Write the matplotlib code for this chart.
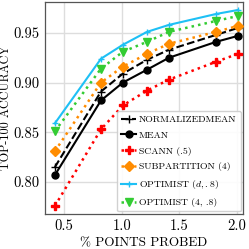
import numpy as np
import matplotlib
matplotlib.use('Agg')
import matplotlib.pyplot as plt

plt.rcParams['font.family'] = 'cmr10'
plt.rcParams['mathtext.fontset'] = 'cm'
plt.rcParams['axes.formatter.use_mathtext'] = True
plt.rcParams['axes.unicode_minus'] = False

# % points probed
x = [0.42, 0.82, 1.01, 1.22, 1.41, 1.82, 2.01]

normalized_mean = [0.815, 0.891, 0.909, 0.923, 0.933, 0.948, 0.955]
mean = [0.807, 0.882, 0.900, 0.913, 0.925, 0.941, 0.947]
scann = [0.776, 0.853, 0.877, 0.892, 0.903, 0.921, 0.929]
subpartition = [0.831, 0.900, 0.916, 0.929, 0.939, 0.951, 0.957]
optimist_d = [0.859, 0.924, 0.938, 0.951, 0.958, 0.969, 0.973]
optimist_4 = [0.851, 0.914, 0.931, 0.941, 0.951, 0.962, 0.967]

labels = ['NORMALIZEDMEAN', 'MEAN', 'SCANN (.5)', 'SUBPARTITION (4)',
          'OPTIMIST $(d, .8)$', 'OPTIMIST (4, .8)']

fig = plt.figure(figsize=(2.49, 2.49), dpi=100)
ax = fig.add_axes([0.181, 0.141, 0.795, 0.851])

ax.plot(x, normalized_mean, color='black', ls='--', lw=1.5, marker='+', ms=6,
        label=labels[0], zorder=3)
ax.plot(x, mean, color='black', ls='-', lw=1.5, marker='o', ms=5,
        label=labels[1], zorder=3)
ax.plot(x, scann, color='red', ls=':', lw=1.8, marker='P', ms=6,
        label=labels[2], zorder=3)
ax.plot(x, subpartition, color='#ff8c00', ls=':', lw=1.8, marker='D', ms=5.5,
        label=labels[3], zorder=3)
ax.plot(x, optimist_d, color='#1ec0f5', ls='-', lw=1.5, marker='+', ms=5,
        label=labels[4], zorder=3)
ax.plot(x, optimist_4, color='#33cc33', ls=':', lw=1.8, marker='v', ms=6,
        label=labels[5], zorder=3)

ax.set_xlim(0.335, 2.052)
ax.set_ylim(0.768, 0.981)
ax.set_xticks([0.5, 1.0, 1.5, 2.0])
ax.set_yticks([0.80, 0.85, 0.90, 0.95])
ax.set_xticklabels(['0.5', '1.0', '1.5', '2.0'])
ax.set_yticklabels(['0.80', '0.85', '0.90', '0.95'])
ax.tick_params(labelsize=10.5, length=0, pad=4)
ax.grid(True, color='#dddddd', lw=1.0, zorder=0)
ax.set_axisbelow(True)
for s in ax.spines.values():
    s.set_color('#555555')
    s.set_linewidth(0.9)

ax.set_xlabel('% POINTS PROBED', fontsize=9.5, labelpad=3)
ax.set_ylabel('TOP-100 ACCURACY', fontsize=8.8, labelpad=1)

ax.legend(loc='lower right', fontsize=7, handlelength=1.5, handletextpad=0.3,
          labelspacing=0.7, borderpad=0.45, borderaxespad=0.25, framealpha=0.9,
          edgecolor='#cccccc')

fig.savefig('out.png', dpi=100)
